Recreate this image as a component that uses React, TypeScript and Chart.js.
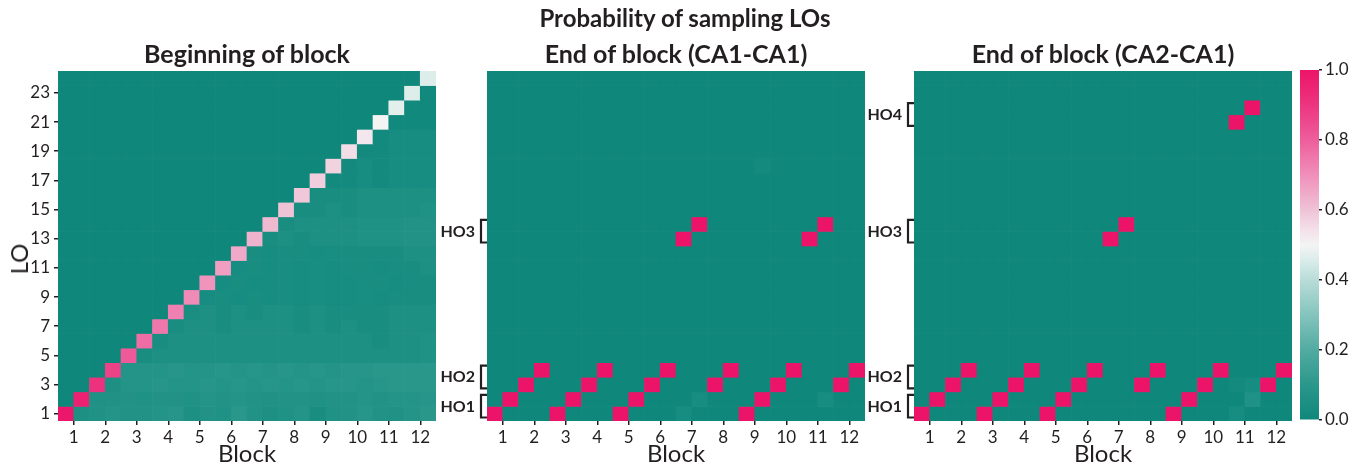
import React, { useEffect, useRef } from 'react';
import { Chart, registerables } from 'chart.js';

Chart.register(...registerables);

// ---------- data ----------
const blockLabels = ['1', '2', '3', '4', '5', '6', '7', '8', '9', '10', '11', '12'];
const blockTickValues = [1, 3, 5, 7, 9, 11, 13, 15, 17, 19, 21, 23];
const loLabels = ['1', '3', '5', '7', '9', '11', '13', '15', '17', '19', '21', '23'];
const loTickValues = [0.5, 2.5, 4.5, 6.5, 8.5, 10.5, 12.5, 14.5, 16.5, 18.5, 20.5, 22.5];
const colorbarTicks = [0, 0.2, 0.4, 0.6, 0.8, 1.0];

const panelTitles = ['Beginning of block', 'End of block (CA1-CA1)', 'End of block (CA2-CA1)'];
const mainTitle = 'Probability of sampling LOs';

// Beginning of block: rows LO 1..24 (bottom to top), columns 1..24 (2 per block)
const beginning: number[][] = [
  [0.99, 0.05, 0.06, 0.08, 0.07, 0.07, 0.08, 0.09, 0.05, 0.07, 0.06, 0.10, 0.07, 0.05, 0.06, 0.08, 0.04, 0.06, 0.07, 0.09, 0.07, 0.06, 0.08, 0.10],
  [0, 0.96, 0.06, 0.06, 0.07, 0.06, 0.07, 0.07, 0.06, 0.08, 0.07, 0.08, 0.07, 0.06, 0.07, 0.07, 0.06, 0.07, 0.07, 0.08, 0.07, 0.08, 0.08, 0.09],
  [0, 0, 0.91, 0.05, 0.08, 0.08, 0.09, 0.08, 0.08, 0.09, 0.08, 0.09, 0.08, 0.09, 0.08, 0.09, 0.08, 0.09, 0.09, 0.08, 0.09, 0.10, 0.10, 0.10],
  [0, 0, 0, 0.87, 0.08, 0.08, 0.08, 0.09, 0.08, 0.08, 0.09, 0.08, 0.09, 0.08, 0.09, 0.08, 0.09, 0.08, 0.09, 0.09, 0.10, 0.10, 0.10, 0.10],
  [0, 0, 0, 0, 0.81, 0.04, 0.05, 0.05, 0.05, 0.05, 0.05, 0.05, 0.05, 0.05, 0.05, 0.05, 0.05, 0.05, 0.05, 0.05, 0.05, 0.05, 0.05, 0.06],
  [0, 0, 0, 0, 0, 0.77, 0.04, 0.05, 0.05, 0.05, 0.05, 0.05, 0.05, 0.05, 0.05, 0.05, 0.05, 0.05, 0.05, 0.05, 0.04, 0.05, 0.05, 0.06],
  [0, 0, 0, 0, 0, 0, 0.75, 0.04, 0.05, 0.05, 0.04, 0.05, 0.05, 0.05, 0.05, 0.04, 0.05, 0.04, 0.05, 0.04, 0.04, 0.05, 0.05, 0.05],
  [0, 0, 0, 0, 0, 0, 0, 0.73, 0.04, 0.05, 0.04, 0.05, 0.04, 0.05, 0.05, 0.04, 0.05, 0.04, 0.04, 0.04, 0.04, 0.05, 0.05, 0.05],
  [0, 0, 0, 0, 0, 0, 0, 0, 0.71, 0.03, 0.04, 0.03, 0.04, 0.03, 0.04, 0.03, 0.04, 0.03, 0.03, 0.04, 0.03, 0.04, 0.04, 0.04],
  [0, 0, 0, 0, 0, 0, 0, 0, 0, 0.69, 0.03, 0.04, 0.03, 0.03, 0.04, 0.03, 0.04, 0.03, 0.03, 0.04, 0.04, 0.03, 0.04, 0.04],
  [0, 0, 0, 0, 0, 0, 0, 0, 0, 0, 0.67, 0.03, 0.04, 0.03, 0.04, 0.03, 0.04, 0.03, 0.04, 0.04, 0.03, 0.04, 0.04, 0.05],
  [0, 0, 0, 0, 0, 0, 0, 0, 0, 0, 0, 0.65, 0.04, 0.03, 0.04, 0.04, 0.03, 0.04, 0.04, 0.04, 0.04, 0.04, 0.05, 0.05],
  [0, 0, 0, 0, 0, 0, 0, 0, 0, 0, 0, 0, 0.63, 0.04, 0.05, 0.04, 0.05, 0.05, 0.05, 0.06, 0.06, 0.06, 0.07, 0.07],
  [0, 0, 0, 0, 0, 0, 0, 0, 0, 0, 0, 0, 0, 0.62, 0.04, 0.05, 0.05, 0.05, 0.05, 0.06, 0.06, 0.06, 0.07, 0.07],
  [0, 0, 0, 0, 0, 0, 0, 0, 0, 0, 0, 0, 0, 0, 0.60, 0.04, 0.04, 0.05, 0.04, 0.05, 0.05, 0.05, 0.05, 0.06],
  [0, 0, 0, 0, 0, 0, 0, 0, 0, 0, 0, 0, 0, 0, 0, 0.59, 0.04, 0.04, 0.04, 0.05, 0.05, 0.05, 0.05, 0.05],
  [0, 0, 0, 0, 0, 0, 0, 0, 0, 0, 0, 0, 0, 0, 0, 0, 0.58, 0.02, 0.02, 0.03, 0.02, 0.03, 0.03, 0.03],
  [0, 0, 0, 0, 0, 0, 0, 0, 0, 0, 0, 0, 0, 0, 0, 0, 0, 0.57, 0.02, 0.03, 0.02, 0.03, 0.03, 0.03],
  [0, 0, 0, 0, 0, 0, 0, 0, 0, 0, 0, 0, 0, 0, 0, 0, 0, 0, 0.55, 0.02, 0.02, 0.03, 0.03, 0.03],
  [0, 0, 0, 0, 0, 0, 0, 0, 0, 0, 0, 0, 0, 0, 0, 0, 0, 0, 0, 0.53, 0.02, 0.03, 0.03, 0.03],
  [0, 0, 0, 0, 0, 0, 0, 0, 0, 0, 0, 0, 0, 0, 0, 0, 0, 0, 0, 0, 0.50, 0.01, 0.01, 0.01],
  [0, 0, 0, 0, 0, 0, 0, 0, 0, 0, 0, 0, 0, 0, 0, 0, 0, 0, 0, 0, 0, 0.47, 0.01, 0.01],
  [0, 0, 0, 0, 0, 0, 0, 0, 0, 0, 0, 0, 0, 0, 0, 0, 0, 0, 0, 0, 0, 0, 0.46, 0.01],
  [0, 0, 0, 0, 0, 0, 0, 0, 0, 0, 0, 0, 0, 0, 0, 0, 0, 0, 0, 0, 0, 0, 0, 0.46],
];

// End of block panels: cells that are not zero, as [column, LO, probability]
const ca1Cells: [number, number, number][] = [
  [1, 1, 1], [5, 1, 1], [9, 1, 1], [17, 1, 1],
  [2, 2, 1], [6, 2, 1], [10, 2, 1], [18, 2, 1],
  [3, 3, 1], [7, 3, 1], [11, 3, 1], [15, 3, 1], [19, 3, 1], [23, 3, 1],
  [4, 4, 1], [8, 4, 1], [12, 4, 1], [16, 4, 1], [20, 4, 1], [24, 4, 1],
  [13, 13, 1], [14, 14, 1], [21, 13, 1], [22, 14, 1],
  [13, 1, 0.03], [14, 2, 0.03], [22, 2, 0.03], [18, 18, 0.02],
];
const ca2Cells: [number, number, number][] = [
  [1, 1, 1], [5, 1, 1], [9, 1, 1], [17, 1, 1],
  [2, 2, 1], [6, 2, 1], [10, 2, 1], [18, 2, 1],
  [3, 3, 1], [7, 3, 1], [11, 3, 1], [15, 3, 1], [19, 3, 1], [23, 3, 1],
  [4, 4, 1], [8, 4, 1], [12, 4, 1], [16, 4, 1], [20, 4, 1], [24, 4, 1],
  [13, 13, 1], [14, 14, 1], [21, 21, 1], [22, 22, 1],
  [21, 1, 0.03], [22, 2, 0.06], [21, 3, 0.02], [22, 3, 0.03],
];

const ca1HoLabels = ['HO1', 'HO2', 'HO3'];
const ca1HoCenters = [1, 3, 13];
const ca2HoLabels = ['HO1', 'HO2', 'HO3', 'HO4'];
const ca2HoCenters = [1, 3, 13, 21];

// ---------- colour map ----------
const cmapStops = [0, 0.1, 0.2, 0.3, 0.4, 0.45, 0.5, 0.55, 0.6, 0.7, 0.8, 0.9, 1.0];
const cmapColors = ['#0f877b', '#2a978b', '#52aba1', '#84c4bd', '#b8dcd8', '#d6ebe8', '#f4f4f4', '#f3dde7', '#efc3d6', '#f08fba', '#ee5e9c', '#ec3580', '#ec1468'];

function hexToRgb(h: string) {
  return [parseInt(h.slice(1, 3), 16), parseInt(h.slice(3, 5), 16), parseInt(h.slice(5, 7), 16)];
}
function colormap(v: number) {
  const x = Math.max(0, Math.min(1, v));
  for (let i = 1; i < cmapStops.length; i++) {
    if (x <= cmapStops[i]) {
      const t = (x - cmapStops[i - 1]) / (cmapStops[i] - cmapStops[i - 1]);
      const a = hexToRgb(cmapColors[i - 1]);
      const b = hexToRgb(cmapColors[i]);
      const c = a.map((av, k) => Math.round(av + (b[k] - av) * t));
      return `rgb(${c[0]},${c[1]},${c[2]})`;
    }
  }
  return cmapColors[cmapColors.length - 1];
}

function sparseToMatrix(cells: [number, number, number][]) {
  const m: number[][] = [];
  for (let r = 0; r < loLabels.length * 2; r++) {
    m.push(new Array(blockLabels.length * 2).fill(0));
  }
  cells.forEach(([c, r, v]) => { m[r - 1][c - 1] = v; });
  return m;
}

// ---------- styling ----------
const FONT = 'Lato, "Noto Sans", sans-serif';
const INK = '#231f20';
const W = 1364;
const H = 469;
const AREA_TOP = 71;
const AREA_BOTTOM = 421;

function makeBracketPlugin(centers: number[]) {
  return {
    id: 'hoBrackets',
    afterDraw(chart: any) {
      const y = chart.scales.y;
      const left = chart.chartArea.left;
      const ctx = chart.ctx;
      ctx.save();
      ctx.strokeStyle = INK;
      ctx.lineWidth = 2.2;
      ctx.lineJoin = 'miter';
      centers.forEach((c) => {
        const top = y.getPixelForValue(c + 1) + 3;
        const bot = y.getPixelForValue(c - 1) - 3.5;
        ctx.beginPath();
        ctx.moveTo(left, top);
        ctx.lineTo(left - 6, top);
        ctx.lineTo(left - 6, bot);
        ctx.lineTo(left, bot);
        ctx.stroke();
      });
      ctx.restore();
    },
  };
}

function heatmapConfig(matrix: number[][], yWidth: number, padRight: number, hoLabels: string[] | null, hoCenters: number[] | null): any {
  const points: any[] = [];
  const colors: string[] = [];
  matrix.forEach((row, r) => {
    row.forEach((v, c) => {
      points.push({ x: c + 0.5, y: [r, r + 1] });
      colors.push(colormap(v));
    });
  });
  const nCols = matrix[0].length;
  const nRows = matrix.length;
  const yScale: any = hoLabels
    ? {
        type: 'linear', min: 0, max: nRows,
        afterBuildTicks: (axis: any) => { axis.ticks = (hoCenters as number[]).map((v) => ({ value: v })); },
        afterFit: (s: any) => { s.width = yWidth; },
        ticks: { autoSkip: false, padding: 12, color: INK, font: { family: FONT, size: 16, weight: 'bold' }, callback: (_v: any, i: number) => hoLabels[i] },
        grid: { display: false, drawTicks: false },
        border: { display: false },
      }
    : {
        type: 'linear', min: 0, max: nRows,
        afterBuildTicks: (axis: any) => { axis.ticks = loTickValues.map((v) => ({ value: v })); },
        afterFit: (s: any) => { s.width = yWidth; },
        ticks: { autoSkip: false, padding: 4, color: INK, font: { family: FONT, size: 17 }, callback: (_v: any, i: number) => loLabels[i] },
        grid: { display: true, drawOnChartArea: false, drawTicks: true, tickLength: 4, color: INK, lineWidth: 1.5 },
        border: { display: false },
      };
  return {
    type: 'bar',
    data: {
      datasets: [{
        data: points,
        backgroundColor: colors,
        borderWidth: 0,
        barPercentage: 1,
        categoryPercentage: 1,
        grouped: false,
      }],
    },
    options: {
      animation: false,
      responsive: false,
      events: [],
      layout: { padding: { top: AREA_TOP, right: padRight, left: 0, bottom: 0 } },
      plugins: { legend: { display: false }, tooltip: { enabled: false }, title: { display: false } },
      scales: {
        x: {
          type: 'linear', min: 0, max: nCols, offset: false,
          afterBuildTicks: (axis: any) => { axis.ticks = blockTickValues.map((v) => ({ value: v })); },
          afterFit: (s: any) => { s.height = H - AREA_BOTTOM; },
          ticks: { autoSkip: false, maxRotation: 0, padding: 2, color: INK, font: { family: FONT, size: 17 }, callback: (_v: any, i: number) => blockLabels[i] },
          grid: { display: true, drawOnChartArea: false, drawTicks: true, tickLength: 4, color: INK, lineWidth: 1.5, offset: false },
          border: { display: false },
          title: { display: true, text: 'Block', color: INK, font: { family: FONT, size: 24 }, padding: { top: 0, bottom: 0 } },
        },
        y: yScale,
      },
    },
    plugins: hoCenters ? [makeBracketPlugin(hoCenters)] : [],
  };
}

function colorbarConfig(): any {
  return {
    type: 'bar',
    data: {
      labels: ['p'],
      datasets: [{
        data: [[colorbarTicks[0], colorbarTicks[colorbarTicks.length - 1]]],
        borderWidth: 0,
        barPercentage: 1,
        categoryPercentage: 1,
        backgroundColor: (ctx: any) => {
          const chart = ctx.chart;
          const ys = chart.scales && chart.scales.y;
          if (!ys) return cmapColors[0];
          const y0 = ys.getPixelForValue(0);
          const y1 = ys.getPixelForValue(1);
          if (!Number.isFinite(y0) || !Number.isFinite(y1) || y0 === y1) return cmapColors[0];
          const g = chart.ctx.createLinearGradient(0, y0, 0, y1);
          cmapStops.forEach((s, i) => g.addColorStop(s, cmapColors[i]));
          return g;
        },
      }],
    },
    options: {
      animation: false,
      responsive: false,
      events: [],
      layout: { padding: { top: 70, bottom: H - 420, left: 4, right: 0 } },
      plugins: { legend: { display: false }, tooltip: { enabled: false } },
      scales: {
        x: { display: false },
        y: {
          position: 'right', min: 0, max: 1,
          afterBuildTicks: (axis: any) => { axis.ticks = colorbarTicks.map((v) => ({ value: v })); },
          afterFit: (s: any) => { s.width = 45; },
          ticks: { autoSkip: false, padding: 3, color: INK, font: { family: FONT, size: 17 }, callback: (v: any) => Number(v).toFixed(1) },
          grid: { display: true, drawOnChartArea: false, drawTicks: true, tickLength: 3, color: INK, lineWidth: 1.5 },
          border: { display: false },
        },
      },
    },
  };
}

function ChartCanvas({ config, left, width }: { config: () => any; left: number; width: number }) {
  const ref = useRef<HTMLCanvasElement | null>(null);
  useEffect(() => {
    if (!ref.current) return;
    const chart = new Chart(ref.current, config());
    return () => chart.destroy();
  }, []);
  return (
    <canvas
      ref={ref}
      width={width}
      height={H}
      style={{ position: 'absolute', left, top: 0, width, height: H }}
    />
  );
}

const titleStyle: React.CSSProperties = {
  position: 'absolute',
  fontFamily: FONT,
  fontWeight: 700,
  color: INK,
  lineHeight: 1,
  whiteSpace: 'nowrap',
  textAlign: 'center',
};

export default function App() {
  const ca1 = sparseToMatrix(ca1Cells);
  const ca2 = sparseToMatrix(ca2Cells);
  return (
    <div style={{ position: 'fixed', left: 0, top: 0, width: W, height: H, background: '#fff', overflow: 'hidden' }}>
      <ChartCanvas left={0} width={438} config={() => heatmapConfig(beginning, 58, 2, null, null)} />
      <ChartCanvas left={438} width={430} config={() => heatmapConfig(ca1, 49, 3, ca1HoLabels, ca1HoCenters)} />
      <ChartCanvas left={868} width={432} config={() => heatmapConfig(ca2, 46, 8, ca2HoLabels, ca2HoCenters)} />
      <ChartCanvas left={1296} width={68} config={colorbarConfig} />
      <div style={{ ...titleStyle, left: 3, width: W, top: 6, fontSize: 24 }}>{mainTitle}</div>
      <div style={{ ...titleStyle, left: 58, width: 378, top: 41, fontSize: 25 }}>{panelTitles[0]}</div>
      <div style={{ ...titleStyle, left: 487, width: 378, top: 41, fontSize: 25 }}>{panelTitles[1]}</div>
      <div style={{ ...titleStyle, left: 914, width: 378, top: 41, fontSize: 25 }}>{panelTitles[2]}</div>
      <div
        style={{
          position: 'absolute', left: 19, top: 259, fontFamily: FONT, fontSize: 24, color: INK, lineHeight: 1,
          transform: 'translate(-50%, -50%) rotate(-90deg)', whiteSpace: 'nowrap',
        }}
      >
        LO
      </div>
    </div>
  );
}
